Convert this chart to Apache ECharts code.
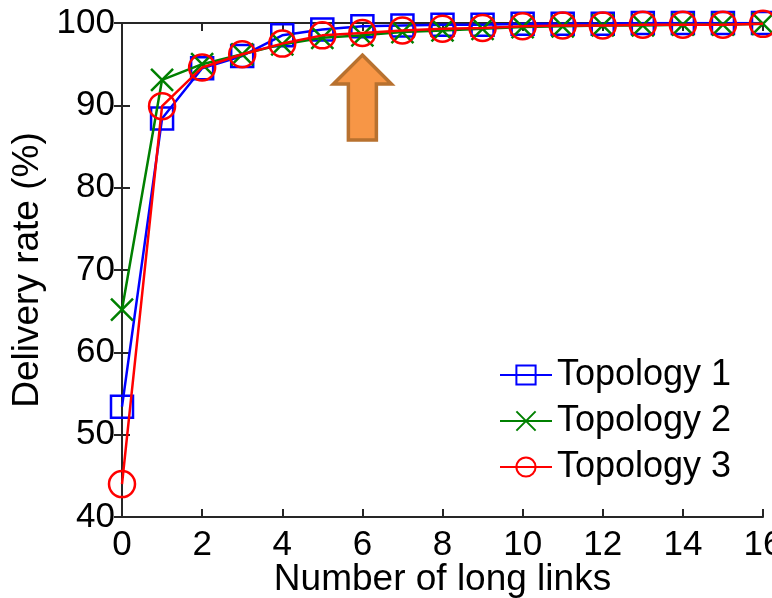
<!DOCTYPE html>
<html>
<head>
<meta charset="utf-8">
<script src="https://cdn.jsdelivr.net/npm/echarts@6/dist/echarts.min.js"></script>
<style>
  html, body { margin: 0; padding: 0; background: #fff; }
  #chart { width: 772px; height: 598px; }
</style>
</head>
<body>
<div id="chart"></div>
<script>
// Number of long links (x) and delivery rate in percent for each topology
const longLinks = [0, 1, 2, 3, 4, 5, 6, 7, 8, 9, 10, 11, 12, 13, 14, 15, 16];
const topology1 = [53.4, 88.4, 94.5, 96.0, 98.5, 99.2, 99.6, 99.7, 99.8, 99.8, 99.9, 99.9, 99.9, 100, 100, 100, 100];
const topology2 = [65.2, 93.1, 95.0, 96.2, 97.4, 98.2, 98.5, 98.9, 99.1, 99.3, 99.5, 99.6, 99.7, 99.7, 99.8, 99.8, 99.9];
const topology3 = [44.0, 89.9, 94.6, 96.2, 97.5, 98.5, 98.8, 99.1, 99.3, 99.4, 99.6, 99.7, 99.7, 99.8, 99.8, 99.8, 99.9];
const seriesNames = ['Topology 1', 'Topology 2', 'Topology 3'];
const xTicks = { min: 0, max: 16, interval: 2 };
const yTicks = { min: 40, max: 100, interval: 10 };
// Annotated point: arrow under x = 6
const arrowAt = [6, 96.1];

const FONT = '"Liberation Sans", Arial, Helvetica, sans-serif';
const TICK_SIZE = 35;
const LEGEND_SIZE = 36;
const LABEL_SIZE = 37;
const AXIS_COLOR = '#262626';

const pairs = arr => longLinks.map((x, i) => [x, arr[i]]);

const chart = echarts.init(document.getElementById('chart'), null, { renderer: 'canvas' });

const axisLineStyle = { show: true, lineStyle: { color: AXIS_COLOR, width: 2 } };
const tickStyle = { show: true, inside: true, length: 8, lineStyle: { color: AXIS_COLOR, width: 2 } };
const tickText = { fontFamily: FONT, fontSize: TICK_SIZE, color: '#000' };
const labelText = { fontFamily: FONT, fontSize: LABEL_SIZE, color: '#000' };

const option = {
  animation: false,
  backgroundColor: '#fff',
  grid: { left: 122, right: 9, top: 23, bottom: 81, containLabel: false, outerBoundsMode: 'none' },
  legend: {
    orient: 'vertical',
    left: 494,
    top: 352,
    itemWidth: 52,
    itemHeight: 24,
    itemGap: 10,
    textStyle: { fontFamily: FONT, fontSize: LEGEND_SIZE, color: '#000' },
    data: seriesNames
  },
  xAxis: [
    {
      type: 'value',
      min: xTicks.min, max: xTicks.max, interval: xTicks.interval,
      name: 'Number of long links',
      nameLocation: 'middle',
      nameMoveOverlap: false,
      nameGap: 44,
      nameTextStyle: labelText,
      axisLine: axisLineStyle,
      axisTick: tickStyle,
      axisLabel: Object.assign({ margin: 11 }, tickText),
      splitLine: { show: false }
    },
    {
      type: 'value', position: 'top',
      min: xTicks.min, max: xTicks.max, interval: xTicks.interval,
      axisLine: axisLineStyle, axisTick: tickStyle,
      axisLabel: { show: false }, splitLine: { show: false }
    }
  ],
  yAxis: [
    {
      type: 'value',
      min: yTicks.min, max: yTicks.max, interval: yTicks.interval,
      name: 'Delivery rate (%)',
      nameLocation: 'middle',
      nameMoveOverlap: false,
      nameGap: 76,
      nameTextStyle: labelText,
      axisLine: axisLineStyle,
      axisTick: tickStyle,
      axisLabel: Object.assign({ margin: 7 }, tickText),
      splitLine: { show: false }
    },
    {
      type: 'value', position: 'right',
      min: yTicks.min, max: yTicks.max, interval: yTicks.interval,
      axisLine: axisLineStyle, axisTick: tickStyle,
      axisLabel: { show: false }, splitLine: { show: false }
    }
  ],
  series: [
    {
      name: seriesNames[0], type: 'line', data: pairs(topology1),
      symbol: 'rect', symbolSize: 22,
      lineStyle: { color: '#0000ff', width: 2.5 },
      itemStyle: { color: 'rgba(255,255,255,0)', borderColor: '#0000ff', borderWidth: 2.5 },
      z: 2
    },
    {
      name: seriesNames[1], type: 'line', data: pairs(topology2),
      symbol: 'path://M0,0L10,10M10,0L0,10', symbolSize: 22,
      lineStyle: { color: '#008000', width: 2.5 },
      itemStyle: { color: 'rgba(0,128,0,0)', borderColor: '#008000', borderWidth: 2.5 },
      z: 3
    },
    {
      name: seriesNames[2], type: 'line', data: pairs(topology3),
      symbol: 'circle', symbolSize: 26,
      lineStyle: { color: '#ff0000', width: 2.5 },
      itemStyle: { color: 'rgba(255,255,255,0)', borderColor: '#ff0000', borderWidth: 2.5 },
      z: 4
    }
  ]
};

chart.setOption(option);

// Orange up-arrow placed under the x = 6 point
const tip = chart.convertToPixel({ xAxisIndex: 0, yAxisIndex: 0 }, arrowAt);
const cx = tip[0], ty = tip[1];
chart.setOption({
  graphic: [{
    type: 'polygon',
    z: 10,
    shape: {
      points: [
        [cx, ty],
        [cx + 29, ty + 29],
        [cx + 14, ty + 29],
        [cx + 14, ty + 85],
        [cx - 14, ty + 85],
        [cx - 14, ty + 29],
        [cx - 29, ty + 29]
      ]
    },
    style: { fill: '#f79646', stroke: '#b8712f', lineWidth: 3.5, lineJoin: 'miter' }
  }]
});
</script>
</body>
</html>
